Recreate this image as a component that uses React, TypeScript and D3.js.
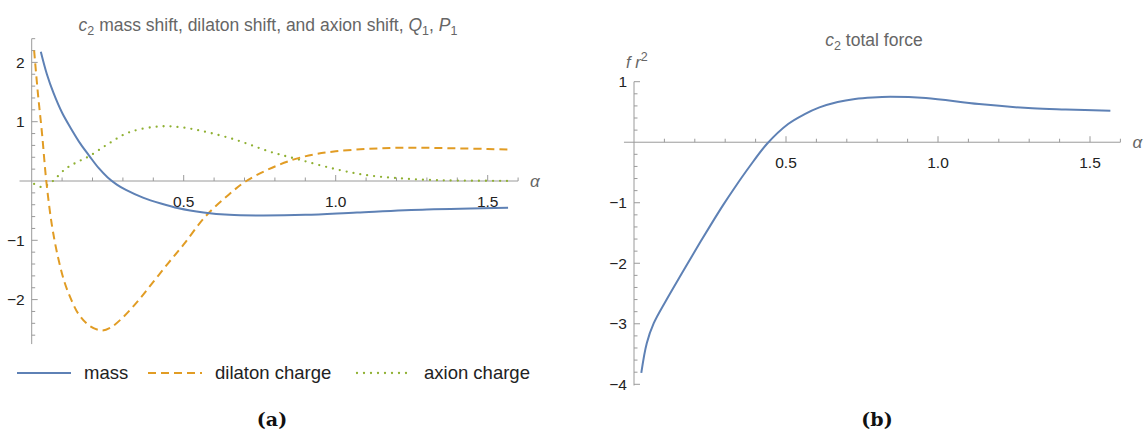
import { useEffect, useRef } from "react";
import * as d3 from "d3";

// panel (a): c2 shifts vs alpha
const massAlpha = [0.03, 0.05, 0.072, 0.1, 0.131, 0.16, 0.19, 0.22, 0.25, 0.28, 0.31, 0.366, 0.425, 0.483, 0.565, 0.65, 0.74, 0.9, 1.07, 1.3, 1.567];
const mass = [2.18, 1.8, 1.48, 1.15, 0.87, 0.63, 0.42, 0.22, 0.06, -0.06, -0.15, -0.28, -0.38, -0.46, -0.53, -0.57, -0.58, -0.57, -0.53, -0.48, -0.45];

const dilatonAlpha = [0.008, 0.02, 0.034, 0.048, 0.066, 0.085, 0.107, 0.13, 0.155, 0.19, 0.23, 0.26, 0.3, 0.35, 0.4, 0.45, 0.5, 0.571, 0.648, 0.706, 0.78, 0.86, 0.93, 1.0, 1.1, 1.2, 1.3, 1.4, 1.5, 1.567];
const dilaton = [2.2, 1.5, 0.8, 0, -0.73, -1.25, -1.69, -2.0, -2.25, -2.44, -2.52, -2.47, -2.3, -2.02, -1.7, -1.38, -1.07, -0.6, -0.23, 0, 0.2, 0.36, 0.45, 0.5, 0.54, 0.56, 0.56, 0.55, 0.54, 0.53];

const axionAlpha = [0.008, 0.03, 0.05, 0.07, 0.11, 0.15, 0.19, 0.25, 0.32, 0.42, 0.5, 0.58, 0.68, 0.78, 0.88, 1.0, 1.1, 1.2, 1.3, 1.4, 1.567];
const axion = [-0.05, -0.1, -0.07, 0, 0.2, 0.32, 0.42, 0.62, 0.82, 0.92, 0.9, 0.82, 0.68, 0.5, 0.36, 0.2, 0.1, 0.05, 0.02, 0.008, 0.002];

// panel (b): total force f r^2
const forceAlpha = [0.024, 0.042, 0.065, 0.106, 0.158, 0.205, 0.252, 0.293, 0.33, 0.379, 0.437, 0.507, 0.56, 0.61, 0.67, 0.727, 0.785, 0.843, 0.96, 1.135, 1.31, 1.42, 1.567];
const force = [-3.81, -3.32, -2.99, -2.61, -2.16, -1.76, -1.37, -1.04, -0.76, -0.41, -0.03, 0.3, 0.46, 0.575, 0.665, 0.715, 0.74, 0.75, 0.73, 0.63, 0.56, 0.54, 0.52];

const xTickLabels = ["0.5", "1.0", "1.5"];
const yLabelsA = [-2, -1, 1, 2];
const yLabelsB = [-4, -3, -2, -1, 1];

const BLUE = "#5e81b5";
const ORANGE = "#e19c24";
const GREEN = "#8fb032";
const AXIS = "#9a9a9a";
const SANS = "'Liberation Sans', Arial, sans-serif";

type Panel = {
  x: d3.ScaleLinear<number, number>;
  y: d3.ScaleLinear<number, number>;
  xMin: number;
  xMax: number;
  yMin: number;
  yMax: number;
  yLabels: number[];
};

function drawAxes(g: d3.Selection<SVGGElement, unknown, null, undefined>, p: Panel) {
  const { x, y } = p;
  const y0 = y(0);
  const x0 = x(0);
  g.append("line").attr("x1", x(p.xMin)).attr("x2", x(p.xMax)).attr("y1", y0).attr("y2", y0)
    .attr("stroke", AXIS).attr("stroke-width", 1);
  g.append("line").attr("x1", x0).attr("x2", x0).attr("y1", y(p.yMax)).attr("y2", y(p.yMin))
    .attr("stroke", AXIS).attr("stroke-width", 1);

  const xt = d3.range(1, Math.round(p.xMax * 10) + 1).map((i) => i / 10);
  g.selectAll(null).data(xt).join("line")
    .attr("x1", (d) => x(d)).attr("x2", (d) => x(d))
    .attr("y1", y0).attr("y2", (d) => y0 - (Math.abs(d * 2 - Math.round(d * 2)) < 1e-6 ? 6 : 3.5))
    .attr("stroke", AXIS).attr("stroke-width", 1);

  const yt = d3.range(Math.ceil(p.yMin * 5), Math.floor(p.yMax * 5) + 1).map((i) => i / 5).filter((d) => Math.abs(d) > 1e-6);
  g.selectAll(null).data(yt).join("line")
    .attr("y1", (d) => y(d)).attr("y2", (d) => y(d))
    .attr("x1", x0).attr("x2", (d) => x0 + (Math.abs(d - Math.round(d)) < 1e-6 ? 6 : 3.5))
    .attr("stroke", AXIS).attr("stroke-width", 1);

  g.selectAll(null).data(xTickLabels).join("text")
    .attr("x", (d) => x(+d)).attr("y", y0 + 26)
    .attr("text-anchor", "middle").attr("font-family", SANS).attr("font-size", 15.5).attr("fill", "#222")
    .text((d) => d);

  g.selectAll(null).data(p.yLabels).join("text")
    .attr("x", x0 - 7).attr("y", (d) => y(d)).attr("dy", "0.35em")
    .attr("text-anchor", "end").attr("font-family", SANS).attr("font-size", 15.5).attr("fill", "#222")
    .text((d) => (d < 0 ? "\u2212" + Math.abs(d) : String(d)));

  g.append("text").attr("x", x(p.xMax) + 12).attr("y", y0).attr("dy", "0.35em")
    .attr("font-family", SANS).attr("font-size", 17).attr("font-style", "italic").attr("fill", "#666")
    .text("α");
}

function curve(g: d3.Selection<SVGGElement, unknown, null, undefined>, p: Panel, xs: number[], ys: number[], color: string, dash?: string) {
  const line = d3.line<number>().x((_, i) => p.x(xs[i])).y((d) => p.y(d)).curve(d3.curveCatmullRom.alpha(0.5));
  const path = g.append("path").attr("d", line(ys)).attr("fill", "none").attr("stroke", color)
    .attr("stroke-width", 2);
  if (dash === "dashed") path.attr("stroke-dasharray", "8,5");
  if (dash === "dotted") path.attr("stroke-dasharray", "0,7").attr("stroke-linecap", "round").attr("stroke-width", 2.3);
}

export default function App() {
  const svgRef = useRef<SVGSVGElement>(null);

  useEffect(() => {
    const svg = d3.select(svgRef.current);
    svg.selectAll("*").remove();

    // ---- panel (a)
    const pa: Panel = {
      x: d3.scaleLinear().domain([0, 1.5]).range([31.7, 487.7]),
      y: d3.scaleLinear().domain([0, 2]).range([181, 62.4]),
      xMin: -0.04, xMax: 1.6, yMin: -2.75, yMax: 2.4, yLabels: yLabelsA,
    };
    const ga = svg.append("g");
    drawAxes(ga, pa);
    curve(ga, pa, axionAlpha, axion, GREEN, "dotted");
    curve(ga, pa, dilatonAlpha, dilaton, ORANGE, "dashed");
    curve(ga, pa, massAlpha, mass, BLUE);

    const ta = ga.append("text").attr("x", 268).attr("y", 31).attr("text-anchor", "middle")
      .attr("font-family", SANS).attr("font-size", 17.5).attr("fill", "#666");
    ta.append("tspan").attr("font-style", "italic").text("c");
    ta.append("tspan").attr("font-size", 12.5).attr("dy", 4).text("2");
    ta.append("tspan").attr("dy", -4).text(" mass shift, dilaton shift, and axion shift, ");
    ta.append("tspan").attr("font-style", "italic").text("Q");
    ta.append("tspan").attr("font-size", 12.5).attr("dy", 4).text("1");
    ta.append("tspan").attr("dy", -4).text(", ");
    ta.append("tspan").attr("font-style", "italic").text("P");
    ta.append("tspan").attr("font-size", 12.5).attr("dy", 4).text("1");

    // legend
    const legend = [
      { label: "mass", color: BLUE, dash: "", x: 17 },
      { label: "dilaton charge", color: ORANGE, dash: "dashed", x: 148 },
      { label: "axion charge", color: GREEN, dash: "dotted", x: 357 },
    ];
    const ly = 373;
    legend.forEach((l) => {
      const ln = ga.append("line").attr("x1", l.x).attr("x2", l.x + 54).attr("y1", ly).attr("y2", ly)
        .attr("stroke", l.color).attr("stroke-width", 2);
      if (l.dash === "dashed") ln.attr("stroke-dasharray", "8,5");
      if (l.dash === "dotted") ln.attr("stroke-dasharray", "0,7").attr("stroke-linecap", "round").attr("stroke-width", 2.3);
      ga.append("text").attr("x", l.x + 67).attr("y", ly).attr("dy", "0.35em")
        .attr("font-family", SANS).attr("font-size", 18.5).attr("fill", "#222").text(l.label);
    });

    ga.append("text").attr("x", 272).attr("y", 426).attr("text-anchor", "middle")
      .attr("font-family", "'DejaVu Serif', serif").attr("font-weight", "bold").attr("font-size", 19).attr("fill", "#111")
      .text("(a)");

    // ---- panel (b)
    const pb: Panel = {
      x: d3.scaleLinear().domain([0, 1.5]).range([634, 1090]),
      y: d3.scaleLinear().domain([-4, 1]).range([384.3, 81.7]),
      xMin: -0.033, xMax: 1.6, yMin: -4.02, yMax: 1, yLabels: yLabelsB,
    };
    const gb = svg.append("g");
    drawAxes(gb, pb);
    curve(gb, pb, forceAlpha, force, BLUE);

    const tb = gb.append("text").attr("x", 874).attr("y", 46).attr("text-anchor", "middle")
      .attr("font-family", SANS).attr("font-size", 17.5).attr("fill", "#666");
    tb.append("tspan").attr("font-style", "italic").text("c");
    tb.append("tspan").attr("font-size", 12.5).attr("dy", 4).text("2");
    tb.append("tspan").attr("dy", -4).text(" total force");

    const fl = gb.append("text").attr("x", 626).attr("y", 68)
      .attr("font-family", SANS).attr("font-size", 16.5).attr("font-style", "italic").attr("fill", "#666");
    fl.append("tspan").text("f r");
    fl.append("tspan").attr("font-size", 12.5).attr("dy", -7).attr("font-style", "normal").text("2");

    gb.append("text").attr("x", 877).attr("y", 426).attr("text-anchor", "middle")
      .attr("font-family", "'DejaVu Serif', serif").attr("font-weight", "bold").attr("font-size", 19).attr("fill", "#111")
      .text("(b)");
  }, []);

  return (
    <svg ref={svgRef} width={1145} height={439}
      style={{ position: "absolute", left: 0, top: 0, background: "#fff" }} />
  );
}
